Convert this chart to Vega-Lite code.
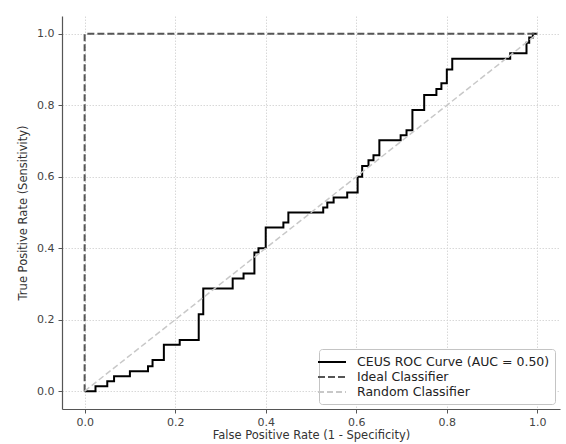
{
  "$schema": "https://vega.github.io/schema/vega-lite/v6.json",
  "width": 498,
  "height": 393,
  "autosize": "none",
  "padding": {"left": 62, "top": 16, "right": 6, "bottom": 35},
  "background": "white",
  "config": {
    "font": "DejaVu Sans",
    "view": {"stroke": null},
    "axis": {
      "labelFont": "DejaVu Sans", "labelFontSize": 11, "labelColor": "#444",
      "titleFont": "DejaVu Sans", "titleFontSize": 11.5, "titleFontWeight": "normal", "titleColor": "#333",
      "domainColor": "#555", "domainWidth": 1.2, "tickColor": "#555", "tickSize": 4,
      "gridColor": "#d4d4d4", "gridDash": [1.5, 1.5], "gridWidth": 0.9
    },
    "legend": {
      "labelFont": "DejaVu Sans", "labelFontSize": 12.5, "labelColor": "#222", "labelLimit": 0
    }
  },
  "datasets": {
    "roc": [
      {"fpr": 0, "tpr": 0}, {"fpr": 0.024, "tpr": 0.014}, {"fpr": 0.05, "tpr": 0.028}, {"fpr": 0.065, "tpr": 0.042},
      {"fpr": 0.10, "tpr": 0.056}, {"fpr": 0.14, "tpr": 0.07}, {"fpr": 0.15, "tpr": 0.087}, {"fpr": 0.175, "tpr": 0.13},
      {"fpr": 0.21, "tpr": 0.143}, {"fpr": 0.252, "tpr": 0.215}, {"fpr": 0.262, "tpr": 0.287}, {"fpr": 0.327, "tpr": 0.315},
      {"fpr": 0.351, "tpr": 0.329}, {"fpr": 0.375, "tpr": 0.388}, {"fpr": 0.384, "tpr": 0.40}, {"fpr": 0.40, "tpr": 0.458},
      {"fpr": 0.439, "tpr": 0.472}, {"fpr": 0.45, "tpr": 0.50}, {"fpr": 0.527, "tpr": 0.514}, {"fpr": 0.536, "tpr": 0.528},
      {"fpr": 0.55, "tpr": 0.542}, {"fpr": 0.58, "tpr": 0.556}, {"fpr": 0.603, "tpr": 0.60}, {"fpr": 0.613, "tpr": 0.63},
      {"fpr": 0.627, "tpr": 0.646}, {"fpr": 0.638, "tpr": 0.66}, {"fpr": 0.651, "tpr": 0.702}, {"fpr": 0.698, "tpr": 0.716},
      {"fpr": 0.711, "tpr": 0.73}, {"fpr": 0.724, "tpr": 0.787}, {"fpr": 0.75, "tpr": 0.829}, {"fpr": 0.777, "tpr": 0.846},
      {"fpr": 0.788, "tpr": 0.862}, {"fpr": 0.80, "tpr": 0.90}, {"fpr": 0.812, "tpr": 0.93}, {"fpr": 0.94, "tpr": 0.946},
      {"fpr": 0.976, "tpr": 0.975}, {"fpr": 0.982, "tpr": 0.99}, {"fpr": 0.99, "tpr": 1.0}, {"fpr": 1.0, "tpr": 1.0}
    ],
    "ideal": [
      {"fpr": 0, "tpr": 0, "i": 0}, {"fpr": 0, "tpr": 1, "i": 1}, {"fpr": 1, "tpr": 1, "i": 2}
    ],
    "random": [
      {"fpr": 0, "tpr": 0}, {"fpr": 1, "tpr": 1}
    ]
  },
  "encoding": {
    "x": {
      "field": "fpr", "type": "quantitative",
      "scale": {"domain": [-0.05, 1.05], "nice": false, "zero": false},
      "axis": {"values": [0, 0.2, 0.4, 0.6, 0.8, 1.0], "format": ".1f", "title": "False Positive Rate (1 - Specificity)", "titlePadding": 2, "labelPadding": 3}
    },
    "y": {
      "field": "tpr", "type": "quantitative",
      "scale": {"domain": [-0.05, 1.05], "nice": false, "zero": false},
      "axis": {"values": [0, 0.2, 0.4, 0.6, 0.8, 1.0], "format": ".1f", "title": "True Positive Rate (Sensitivity)", "titlePadding": 8, "labelPadding": 4}
    },
    "color": {
      "field": "s", "type": "nominal",
      "scale": {"domain": ["CEUS ROC Curve (AUC = 0.50)", "Ideal Classifier", "Random Classifier"], "range": ["#000000", "#555555", "#c8c8c8"]},
      "legend": {
        "title": null, "orient": "bottom-right", "offset": 5, "symbolType": "M-2,0H2", "symbolSize": 196,
        "symbolStrokeWidth": 2, "symbolFillColor": "transparent", "rowPadding": 0, "labelOffset": 17, "padding": 5,
        "fillColor": "white", "strokeColor": "#c4c4c4", "cornerRadius": 3
      }
    },
    "strokeDash": {
      "field": "s", "type": "nominal",
      "scale": {"domain": ["CEUS ROC Curve (AUC = 0.50)", "Ideal Classifier", "Random Classifier"], "range": [[1, 0], [7, 3], [6, 3]]},
      "legend": {"title": null}
    }
  },
  "layer": [
    {
      "data": {"name": "roc"},
      "transform": [{"calculate": "'CEUS ROC Curve (AUC = 0.50)'", "as": "s"}],
      "mark": {"type": "line", "interpolate": "step-after", "strokeWidth": 2}
    },
    {
      "data": {"name": "ideal"},
      "transform": [{"calculate": "'Ideal Classifier'", "as": "s"}],
      "mark": {"type": "line", "strokeWidth": 2},
      "encoding": {"order": {"field": "i", "type": "quantitative"}}
    },
    {
      "data": {"name": "random"},
      "transform": [{"calculate": "'Random Classifier'", "as": "s"}],
      "mark": {"type": "line", "strokeWidth": 1.5}
    }
  ]
}
